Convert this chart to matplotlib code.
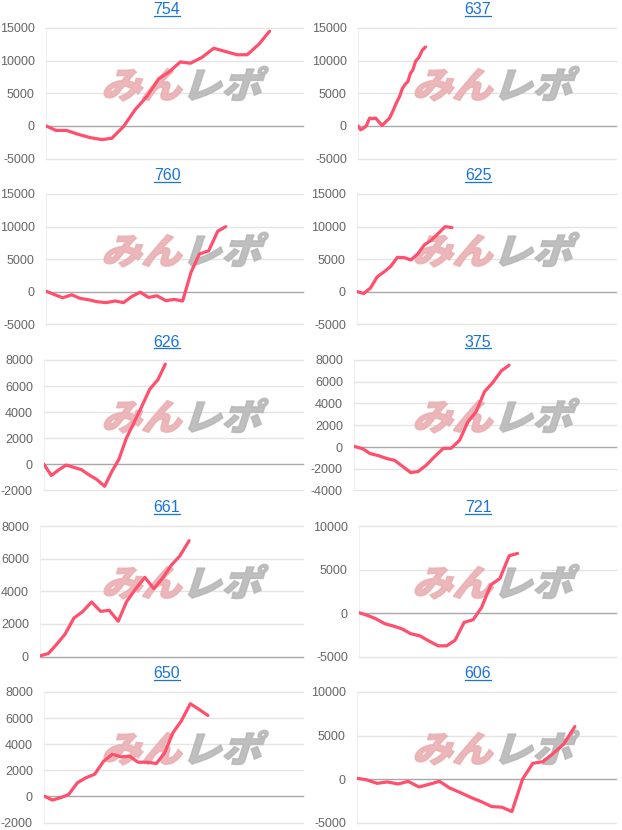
import matplotlib
matplotlib.use('Agg')
import matplotlib.pyplot as plt
from matplotlib.font_manager import FontProperties
from matplotlib.lines import Line2D
from matplotlib.patches import PathPatch
from matplotlib.textpath import TextPath
from matplotlib.transforms import Affine2D, IdentityTransform

plt.rcParams['font.family'] = ['Liberation Sans', 'DejaVu Sans']

# machine numbers (titles), in grid order
titles = ['754', '637', '760', '625', '626', '375', '661', '721', '650', '606']

# x: games played, y: coin difference
x_754 = [0, 351, 725, 1135, 1545, 1954, 2305, 2715, 3124, 3534, 3943, 4294, 4704, 5055, 5465, 5874, 6284, 6693, 7044, 7453, 7828]
y_754 = [0, -700, -700, -1300, -1800, -2100, -1900, -100, 2500, 4500, 7200, 8200, 9800, 9600, 10500, 11900, 11400, 10900, 10900, 12500, 14500]

x_637 = [0, 93, 209, 290, 406, 522, 615, 731, 836, 952, 1103, 1219, 1335, 1451, 1544, 1649, 1742, 1823, 1916, 2009, 2125, 2241, 2357]
y_637 = [0, -600, -300, 0, 1200, 1100, 1200, 600, 50, 550, 1200, 2300, 3500, 4500, 5700, 6400, 6800, 8000, 8600, 9900, 10500, 11600, 12100]

x_760 = [0, 257, 585, 901, 1193, 1486, 1778, 2106, 2422, 2714, 3007, 3299, 3592, 3884, 4200, 4493, 4785, 5078, 5370, 5698, 6014, 6295]
y_760 = [100, -350, -900, -450, -1000, -1200, -1500, -1650, -1400, -1650, -700, -50, -850, -600, -1350, -1150, -1400, 3000, 5800, 6300, 9300, 10000]

x_625 = [0, 234, 468, 702, 936, 1170, 1404, 1638, 1872, 2106, 2340, 2574, 2808, 3065, 3299]
y_625 = [50, -250, 600, 2300, 3050, 3900, 5300, 5250, 4900, 5800, 7200, 7900, 8900, 10000, 9850]

x_626 = [0, 255, 521, 776, 1042, 1297, 1563, 1841, 2107, 2362, 2605, 2860, 3115, 3382, 3671, 3960, 4215]
y_626 = [0, -850, -400, -50, -230, -400, -800, -1170, -1680, -530, 400, 2000, 3150, 4370, 5750, 6500, 7680]

x_375 = [0, 290, 556, 846, 1135, 1390, 1679, 1945, 2200, 2490, 2779, 3069, 3335, 3624, 3914, 4192, 4481, 4771, 5060, 5327]
y_375 = [60, -150, -610, -800, -1070, -1220, -1800, -2350, -2260, -1650, -860, -120, -120, 610, 2320, 3240, 5080, 5940, 7000, 7520]

x_661 = [0, 285, 570, 854, 1162, 1458, 1765, 2073, 2369, 2677, 2961, 3280, 3588, 3895, 4214, 4499, 4784, 5103]
y_661 = [40, 180, 750, 1360, 2360, 2750, 3340, 2770, 2830, 2160, 3360, 4160, 4850, 4160, 4850, 5610, 6160, 7100]

x_721 = [0, 292, 584, 900, 1204, 1496, 1812, 2127, 2455, 2770, 3074, 3366, 3682, 3997, 4289, 4617, 4932, 5260, 5552]
y_721 = [40, -270, -650, -1230, -1500, -1810, -2380, -2620, -3230, -3770, -3770, -3120, -1080, -770, 620, 3230, 3960, 6580, 6850]

x_650 = [0, 290, 579, 857, 1158, 1448, 1760, 2073, 2374, 2686, 2976, 3266, 3590, 3903, 4192, 4481, 4771, 5084, 5385, 5697]
y_650 = [30, -280, -100, 150, 1040, 1420, 1700, 2700, 3230, 3030, 3080, 2620, 2620, 2520, 3330, 4880, 5780, 7100, 6670, 6200]

x_606 = [0, 316, 702, 1053, 1428, 1779, 2153, 2504, 2867, 3218, 3569, 3943, 4317, 4680, 5031, 5382, 5756, 6107, 6458, 6832, 7183, 7570]
y_606 = [80, -80, -500, -340, -570, -270, -920, -610, -270, -1030, -1530, -2100, -2600, -3170, -3240, -3740, 0, 1800, 1990, 2980, 4010, 6030]

# y axis ticks per chart (min, max, step)
y_ticks = [
    (-5000, 15000, 5000), (-5000, 15000, 5000),
    (-5000, 15000, 5000), (-5000, 15000, 5000),
    (-2000, 8000, 2000), (-4000, 8000, 2000),
    (0, 8000, 2000), (-5000, 10000, 5000),
    (-2000, 8000, 2000), (-5000, 10000, 5000),
]

series = [(x_754, y_754), (x_637, y_637), (x_760, y_760), (x_625, y_625), (x_626, y_626),
          (x_375, y_375), (x_661, y_661), (x_721, y_721), (x_650, y_650), (x_606, y_606)]

X_MAX = 9000

W, H = 622, 830
CELL_W, CELL_H = 311, 166
# left edge of plot area inside each cell (depends on tick label width)
left_px = [46, 47, 46, 46, 44, 43, 40, 48, 44, 46]
right_px = [303, 305]

LINE_COLOR = '#ff4f6d'
TITLE_COLOR = '#1a73d9'
TICK_COLOR = '#666666'
GRID_COLOR = '#e4e4e4'

fig = plt.figure(figsize=(W / 100, H / 100), dpi=100)

wm_font = FontProperties(family='Noto Sans CJK JP', weight='black')


def add_watermark(ax, cx, cy):
    """Slanted 'みんレポ' logo, pink + gray, drawn in pixel coords."""
    for txt, color, dx in [('みん', '#eab0b3', 0), ('レポ', '#b8b8b8', 80)]:
        tp = TextPath((0, 0), txt, size=38, prop=wm_font)
        tr = (Affine2D().scale(1.05, 0.95).skew_deg(18, 0)
              .translate(cx + dx, H - cy) + IdentityTransform())
        patch = PathPatch(tp, transform=tr, facecolor=color, edgecolor=color,
                          linewidth=1.2, alpha=0.9, zorder=1, clip_on=False)
        ax.add_patch(patch)


for i, (title, (xs, ys), (ymin, ymax, ystep)) in enumerate(zip(titles, series, y_ticks)):
    row, col = divmod(i, 2)
    x0 = col * CELL_W + left_px[i]
    x1 = col * CELL_W + right_px[col]
    top = row * CELL_H + 28
    bottom = row * CELL_H + 158.5
    ax = fig.add_axes([x0 / W, 1 - bottom / H, (x1 - x0) / W, (bottom - top) / H])

    ax.set_xlim(0, X_MAX)
    ax.set_ylim(ymin, ymax)
    ticks = list(range(ymin, ymax + 1, ystep))
    ax.set_yticks(ticks)
    ax.set_yticklabels([str(t) for t in ticks])
    ax.set_xticks([])
    ax.tick_params(axis='y', length=0, pad=8, labelsize=9, labelcolor=TICK_COLOR)
    for s in ax.spines.values():
        s.set_visible(False)

    for t in ticks:
        c = '#a8a8a8' if t == 0 else GRID_COLOR
        ax.axhline(t, color=c, linewidth=1, zorder=0.5, clip_on=False)
    ax.axvline(0, color='#ececec', linewidth=1.2, zorder=0.5)

    add_watermark(ax, col * CELL_W + 101, row * CELL_H + 98)

    ax.plot(xs, ys, color=LINE_COLOR, linewidth=2.3, solid_joinstyle='round',
            solid_capstyle='round', zorder=3)

    fig.text((col * CELL_W + 167) / W, 1 - (row * CELL_H + 10) / H, title,
             ha='center', va='center', fontsize=11.5, color=TITLE_COLOR)

# underline the titles like links
fig.canvas.draw()
renderer = fig.canvas.get_renderer()
for t in fig.texts:
    bb = t.get_window_extent(renderer)
    fig.add_artist(Line2D([bb.x0 / W, bb.x1 / W], [(bb.y0 + 1) / H, (bb.y0 + 1) / H],
                          transform=fig.transFigure, color=TITLE_COLOR, linewidth=0.9))

fig.savefig('out.png', dpi=100)
plt.close(fig)
